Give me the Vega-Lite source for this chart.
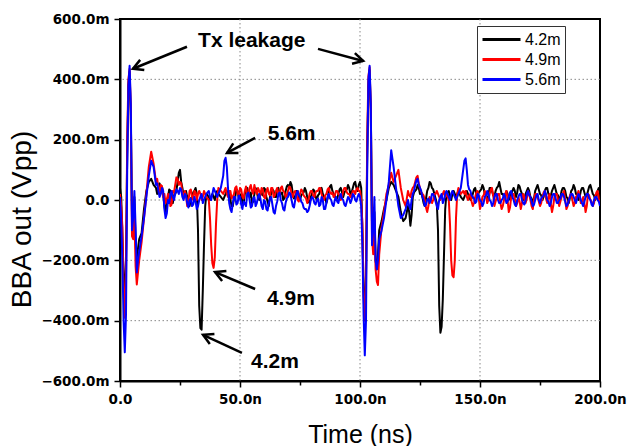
{
  "$schema": "https://vega.github.io/schema/vega-lite/v6.json",
  "width": 480,
  "height": 362,
  "autosize": {"type": "none"},
  "padding": {"left": 120, "top": 19, "right": 29, "bottom": 65},
  "background": "white",
  "config": {
    "view": {"stroke": "black", "strokeWidth": 2},
    "axis": {
      "domainColor": "black", "domainWidth": 2,
      "tickColor": "black", "tickWidth": 1.5,
      "labelFont": "DejaVu Sans", "labelFontWeight": "bold", "labelFontSize": 13.5, "labelColor": "black",
      "labelPadding": 5, "grid": false,
      "titleFont": "Liberation Sans", "titleFontWeight": "normal", "titleColor": "black"
    }
  },
  "datasets": {
    "wave": [
      {"t":0,"a":40,"b":20,"c":10},{"t":0.5,"a":10,"b":-20,"c":-60},{"t":1,"a":-120,"b":-90,"c":-200},{"t":1.5,"a":-250,"b":-300,"c":-400},{"t":2,"a":-330,"b":-390,"c":-505},{"t":2.5,"a":-200,"b":-250,"c":-380},{"t":3,"a":150,"b":200,"c":100},{"t":3.5,"a":380,"b":400,"c":380},{"t":4,"a":425,"b":435,"c":445},{"t":4.5,"a":280,"b":300,"c":320},{"t":5,"a":-60,"b":-120,"c":-100},{"t":5.5,"a":-100,"b":-130,"c":-60},{"t":6,"a":10,"b":-40,"c":30},{"t":6.5,"a":-150,"b":-220,"c":-90},{"t":7,"a":-200,"b":-280,"c":-240},{"t":7.5,"a":-160,"b":-240,"c":-200},{"t":8,"a":-130,"b":-200,"c":-170},{"t":9,"a":-110,"b":-140,"c":-120},{"t":10,"a":-30,"b":-60,"c":-60},{"t":11,"a":30,"b":20,"c":10},{"t":12,"a":60,"b":110,"c":80},{"t":13,"a":70,"b":160,"c":130},{"t":14,"a":50,"b":120,"c":110},{"t":15,"a":40,"b":60,"c":50},
      {"t":16,"a":50,"b":40,"c":30},{"t":17,"a":30,"b":50,"c":20},{"t":18,"a":20,"b":10,"c":30},{"t":19,"a":-40,"b":-10,"c":-60},{"t":20,"a":10,"b":20,"c":0},{"t":21,"a":30,"b":-20,"c":20},{"t":22,"a":-10,"b":30,"c":10},{"t":23,"a":20,"b":50,"c":20},{"t":24,"a":60,"b":70,"c":30},{"t":25,"a":100,"b":60,"c":40},{"t":26,"a":40,"b":20,"c":10},{"t":27,"a":20,"b":30,"c":20},{"t":28,"a":10,"b":-20,"c":-10},{"t":29,"a":-20,"b":30,"c":0},{"t":30,"a":10,"b":10,"c":-20},{"t":31,"a":30,"b":30,"c":10},{"t":32,"a":20,"b":0,"c":-30},{"t":32.5,"a":-100,"b":20,"c":-20},{"t":33,"a":-350,"b":30,"c":0},{"t":33.5,"a":-425,"b":20,"c":10},{"t":34,"a":-430,"b":0,"c":20},{"t":34.5,"a":-300,"b":10,"c":-10},{"t":35,"a":-150,"b":30,"c":0},{"t":35.5,"a":-20,"b":20,"c":10},{"t":36,"a":20,"b":10,"c":20},{"t":37,"a":10,"b":0,"c":30},{"t":37.5,"a":0,"b":-60,"c":10},{"t":38,"a":10,"b":-150,"c":0},{"t":38.5,"a":20,"b":-210,"c":20},{"t":39,"a":10,"b":-225,"c":40},{"t":39.5,"a":0,"b":-190,"c":30},{"t":40,"a":20,"b":-80,"c":20},{"t":40.5,"a":30,"b":0,"c":10},{"t":41,"a":20,"b":40,"c":20},{"t":42,"a":10,"b":30,"c":40},{"t":43,"a":0,"b":20,"c":80},{"t":43.5,"a":10,"b":30,"c":130},{"t":44,"a":20,"b":40,"c":140},{"t":44.5,"a":30,"b":20,"c":110},{"t":45,"a":20,"b":10,"c":40},{"t":46,"a":0,"b":30,"c":-30},{"t":47,"a":-20,"b":10,"c":-10},{"t":48,"a":10,"b":40,"c":10},
      {"t":49,"a":30,"b":20,"c":-10},{"t":50,"a":10,"b":40,"c":10},{"t":51,"a":-10,"b":10,"c":-30},{"t":52,"a":20,"b":30,"c":-10},{"t":53,"a":40,"b":20,"c":20},{"t":54,"a":10,"b":40,"c":0},{"t":55,"a":-10,"b":30,"c":-20},{"t":56,"a":20,"b":50,"c":10},{"t":57,"a":30,"b":20,"c":-10},{"t":58,"a":0,"b":30,"c":20},{"t":59,"a":20,"b":40,"c":-20},{"t":60,"a":40,"b":10,"c":0},{"t":61,"a":10,"b":30,"c":-30},{"t":62,"a":-20,"b":20,"c":-10},{"t":63,"a":20,"b":40,"c":10},{"t":64,"a":30,"b":10,"c":-40},{"t":65,"a":10,"b":30,"c":-20},{"t":66,"a":40,"b":20,"c":20},{"t":67,"a":20,"b":40,"c":0},{"t":68,"a":0,"b":30,"c":-30},{"t":69,"a":30,"b":10,"c":-10},{"t":70,"a":50,"b":30,"c":10},{"t":71,"a":60,"b":40,"c":20},{"t":72,"a":20,"b":10,"c":-20},{"t":73,"a":10,"b":30,"c":0},{"t":74,"a":30,"b":0,"c":30},{"t":75,"a":0,"b":20,"c":10},{"t":76,"a":20,"b":30,"c":-10},{"t":77,"a":40,"b":10,"c":-30},{"t":78,"a":10,"b":-10,"c":-40},{"t":79,"a":-10,"b":20,"c":-20},{"t":80,"a":20,"b":30,"c":10},{"t":81,"a":30,"b":10,"c":-10},{"t":82,"a":0,"b":30,"c":0},{"t":83,"a":20,"b":40,"c":-20},{"t":84,"a":40,"b":20,"c":10},{"t":85,"a":10,"b":0,"c":-30},{"t":86,"a":-10,"b":20,"c":-10},{"t":87,"a":30,"b":40,"c":20},{"t":88,"a":50,"b":20,"c":0},{"t":89,"a":20,"b":10,"c":-20},{"t":90,"a":0,"b":30,"c":10},{"t":91,"a":20,"b":20,"c":-10},{"t":92,"a":40,"b":0,"c":20},{"t":93,"a":10,"b":30,"c":0},{"t":94,"a":30,"b":40,"c":-20},{"t":95,"a":50,"b":20,"c":10},{"t":96,"a":20,"b":10,"c":-10},{"t":97,"a":40,"b":30,"c":20},{"t":98,"a":60,"b":20,"c":0},{"t":99,"a":30,"b":40,"c":10},
      {"t":100,"a":60,"b":30,"c":10},{"t":100.5,"a":40,"b":0,"c":-20},{"t":101,"a":-100,"b":-80,"c":-150},{"t":101.5,"a":-300,"b":-320,"c":-380},{"t":102,"a":-380,"b":-400,"c":-515},{"t":102.5,"a":-250,"b":-280,"c":-400},{"t":103,"a":150,"b":200,"c":100},{"t":103.5,"a":380,"b":410,"c":400},{"t":104,"a":430,"b":440,"c":445},{"t":104.5,"a":300,"b":300,"c":320},{"t":105,"a":-80,"b":-120,"c":-150},{"t":105.5,"a":-150,"b":-180,"c":-100},{"t":106,"a":-40,"b":-60,"c":10},{"t":106.5,"a":-200,"b":-230,"c":-200},{"t":107,"a":-230,"b":-270,"c":-230},{"t":107.5,"a":-180,"b":-282,"c":-200},{"t":108,"a":-100,"b":-180,"c":-130},{"t":109,"a":-70,"b":-90,"c":-100},{"t":110,"a":-30,"b":-40,"c":-60},{"t":111,"a":0,"b":20,"c":0},{"t":112,"a":40,"b":50,"c":60},{"t":113,"a":60,"b":90,"c":165},{"t":114,"a":50,"b":60,"c":110},{"t":115,"a":30,"b":80,"c":40},{"t":116,"a":10,"b":100,"c":-20},{"t":117,"a":-40,"b":40,"c":-60},{"t":118,"a":-70,"b":0,"c":-50},{"t":119,"a":-60,"b":-20,"c":-30},{"t":120,"a":-20,"b":30,"c":0},{"t":121,"a":-85,"b":10,"c":-30},{"t":122,"a":10,"b":40,"c":20},{"t":123,"a":30,"b":60,"c":50},{"t":124,"a":50,"b":80,"c":70},{"t":125,"a":20,"b":40,"c":40},{"t":126,"a":10,"b":20,"c":10},{"t":127,"a":-20,"b":0,"c":-20},{"t":128,"a":30,"b":-40,"c":0},{"t":129,"a":60,"b":10,"c":-10},{"t":130,"a":40,"b":-10,"c":20},{"t":131,"a":20,"b":20,"c":10},{"t":132,"a":-10,"b":30,"c":-20},{"t":132.5,"a":-100,"b":20,"c":-30},{"t":133,"a":-350,"b":10,"c":0},{"t":133.5,"a":-440,"b":0,"c":10},{"t":134,"a":-420,"b":10,"c":20},{"t":134.5,"a":-330,"b":20,"c":-10},{"t":135,"a":-180,"b":30,"c":0},{"t":135.5,"a":-30,"b":10,"c":20},{"t":136,"a":20,"b":20,"c":30},{"t":137,"a":30,"b":0,"c":10},{"t":137.5,"a":10,"b":-80,"c":0},{"t":138,"a":0,"b":-200,"c":20},{"t":138.5,"a":20,"b":-250,"c":30},{"t":139,"a":30,"b":-256,"c":20},{"t":139.5,"a":20,"b":-200,"c":10},{"t":140,"a":10,"b":-60,"c":0},{"t":140.5,"a":20,"b":20,"c":10},{"t":141,"a":30,"b":40,"c":20},{"t":142,"a":10,"b":20,"c":40},{"t":143,"a":0,"b":30,"c":100},{"t":143.5,"a":10,"b":20,"c":130},{"t":144,"a":20,"b":30,"c":138},{"t":144.5,"a":30,"b":10,"c":100},{"t":145,"a":20,"b":0,"c":50},
      {"t":146,"a":0,"b":20,"c":30},{"t":147,"a":20,"b":-20,"c":10},{"t":148,"a":40,"b":10,"c":-10},{"t":149,"a":10,"b":30,"c":20},{"t":150,"a":30,"b":-30,"c":0},{"t":151,"a":50,"b":10,"c":-20},{"t":152,"a":20,"b":30,"c":10},{"t":153,"a":0,"b":-10,"c":30},{"t":154,"a":40,"b":20,"c":0},{"t":155,"a":30,"b":40,"c":-20},{"t":156,"a":10,"b":-20,"c":10},{"t":157,"a":40,"b":10,"c":20},{"t":158,"a":60,"b":20,"c":-10},{"t":159,"a":20,"b":-30,"c":0},{"t":160,"a":10,"b":0,"c":20},{"t":161,"a":30,"b":30,"c":-10},{"t":162,"a":0,"b":-40,"c":10},{"t":163,"a":20,"b":10,"c":30},{"t":164,"a":40,"b":20,"c":0},{"t":165,"a":10,"b":-20,"c":-20},{"t":166,"a":50,"b":10,"c":10},{"t":167,"a":30,"b":-30,"c":20},{"t":168,"a":0,"b":20,"c":-10},{"t":169,"a":20,"b":-10,"c":0},{"t":170,"a":40,"b":30,"c":30},{"t":171,"a":10,"b":0,"c":10},{"t":172,"a":-10,"b":-30,"c":-20},{"t":173,"a":30,"b":20,"c":0},{"t":174,"a":50,"b":10,"c":20},{"t":175,"a":20,"b":-20,"c":-10},{"t":176,"a":0,"b":10,"c":10},{"t":177,"a":30,"b":30,"c":30},{"t":178,"a":40,"b":-10,"c":0},{"t":179,"a":10,"b":20,"c":-20},{"t":180,"a":30,"b":-40,"c":10},{"t":181,"a":50,"b":10,"c":20},{"t":182,"a":20,"b":20,"c":-10},{"t":183,"a":0,"b":-20,"c":0},{"t":184,"a":30,"b":10,"c":20},{"t":185,"a":40,"b":30,"c":10},{"t":186,"a":10,"b":-30,"c":-20},{"t":187,"a":-10,"b":0,"c":0},{"t":188,"a":30,"b":20,"c":20},{"t":189,"a":50,"b":-20,"c":10},{"t":190,"a":20,"b":10,"c":-10},{"t":191,"a":0,"b":30,"c":20},{"t":192,"a":30,"b":-10,"c":0},{"t":193,"a":40,"b":10,"c":-20},{"t":194,"a":10,"b":-40,"c":10},{"t":195,"a":30,"b":20,"c":20},{"t":196,"a":50,"b":0,"c":0},{"t":197,"a":20,"b":-20,"c":-20},{"t":198,"a":0,"b":10,"c":10},{"t":199,"a":30,"b":30,"c":0},{"t":200,"a":40,"b":-10,"c":-20},
      {"t":15.5,"a":20,"b":70,"c":55},{"t":16.5,"a":55,"b":25,"c":10},{"t":17.5,"a":45,"b":45,"c":40},{"t":18.5,"a":-20,"b":20,"c":-30},{"t":19.5,"a":-5,"b":0,"c":-45},{"t":20.5,"a":35,"b":15,"c":-10},{"t":21.5,"a":0,"b":-15,"c":30},{"t":22.5,"a":15,"b":25,"c":0},{"t":23.5,"a":30,"b":75,"c":35},{"t":24.5,"a":90,"b":50,"c":20},{"t":25.5,"a":60,"b":55,"c":35},{"t":26.5,"a":15,"b":10,"c":0},{"t":27.5,"a":30,"b":15,"c":15},{"t":28.5,"a":-15,"b":-5,"c":-25},{"t":29.5,"a":5,"b":35,"c":5},{"t":30.5,"a":25,"b":0,"c":-15},{"t":31.5,"a":40,"b":25,"c":-5},
      {"t":45.5,"a":25,"b":30,"c":-10},{"t":46.5,"a":-20,"b":5,"c":-40},{"t":47.5,"a":5,"b":20,"c":10},{"t":48.5,"a":35,"b":45,"c":-15},{"t":49.5,"a":5,"b":15,"c":15},{"t":50.5,"a":20,"b":35,"c":-15},{"t":51.5,"a":-15,"b":5,"c":-5},{"t":52.5,"a":35,"b":45,"c":-20},{"t":53.5,"a":20,"b":15,"c":25},{"t":54.5,"a":25,"b":50,"c":-25},{"t":55.5,"a":-5,"b":20,"c":5},{"t":56.5,"a":40,"b":30,"c":-20},{"t":57.5,"a":5,"b":40,"c":10},{"t":58.5,"a":25,"b":15,"c":5},{"t":59.5,"a":15,"b":35,"c":-30},{"t":60.5,"a":35,"b":5,"c":-5},{"t":61.5,"a":-5,"b":40,"c":-35},{"t":62.5,"a":10,"b":15,"c":5},{"t":63.5,"a":35,"b":40,"c":-15},{"t":64.5,"a":10,"b":15,"c":-45},{"t":65.5,"a":35,"b":40,"c":-5},{"t":66.5,"a":20,"b":15,"c":25},{"t":67.5,"a":25,"b":45,"c":-10},{"t":68.5,"a":5,"b":25,"c":-35},{"t":69.5,"a":45,"b":15,"c":5},{"t":70.5,"a":40,"b":45,"c":25},{"t":71.5,"a":50,"b":20,"c":0},{"t":72.5,"a":5,"b":25,"c":-25},{"t":73.5,"a":30,"b":20,"c":20},{"t":74.5,"a":10,"b":-5,"c":15},{"t":75.5,"a":15,"b":35,"c":-5},{"t":76.5,"a":25,"b":15,"c":-25},{"t":77.5,"a":30,"b":5,"c":-30},{"t":78.5,"a":-5,"b":0,"c":-35},{"t":79.5,"a":10,"b":30,"c":0},{"t":80.5,"a":35,"b":15,"c":5},{"t":81.5,"a":10,"b":25,"c":-15},{"t":82.5,"a":15,"b":30,"c":5},{"t":83.5,"a":35,"b":40,"c":-15},{"t":84.5,"a":20,"b":5,"c":0},{"t":85.5,"a":5,"b":15,"c":-30},{"t":86.5,"a":5,"b":35,"c":10},{"t":87.5,"a":45,"b":25,"c":5},{"t":88.5,"a":30,"b":25,"c":-15},{"t":89.5,"a":15,"b":15,"c":0},{"t":90.5,"a":5,"b":30,"c":-5},{"t":91.5,"a":35,"b":15,"c":10},{"t":92.5,"a":25,"b":10,"c":5},{"t":93.5,"a":25,"b":40,"c":-15},{"t":94.5,"a":35,"b":25,"c":-5},{"t":95.5,"a":40,"b":20,"c":5},{"t":96.5,"a":25,"b":15,"c":0},{"t":97.5,"a":55,"b":30,"c":15},{"t":98.5,"a":40,"b":35,"c":-5},{"t":99.5,"a":50,"b":30,"c":20},
      {"t":120.5,"a":-40,"b":15,"c":-20},{"t":121.5,"a":-50,"b":30,"c":0},{"t":122.5,"a":25,"b":45,"c":30},{"t":123.5,"a":35,"b":75,"c":65},{"t":124.5,"a":40,"b":55,"c":50},{"t":125.5,"a":25,"b":25,"c":30},{"t":126.5,"a":-10,"b":15,"c":0},{"t":127.5,"a":5,"b":-25,"c":-15},{"t":128.5,"a":40,"b":-20,"c":5},{"t":129.5,"a":55,"b":5,"c":0},{"t":130.5,"a":35,"b":0,"c":20},{"t":131.5,"a":5,"b":20,"c":-5},
      {"t":145.5,"a":10,"b":15,"c":35},{"t":146.5,"a":5,"b":-5,"c":15},{"t":147.5,"a":35,"b":-10,"c":5},{"t":148.5,"a":20,"b":25,"c":-5},{"t":149.5,"a":25,"b":5,"c":15},{"t":150.5,"a":35,"b":-15,"c":-5},{"t":151.5,"a":40,"b":15,"c":-10},{"t":152.5,"a":15,"b":15,"c":15},{"t":153.5,"a":15,"b":0,"c":20},{"t":154.5,"a":40,"b":35,"c":-5},{"t":155.5,"a":15,"b":15,"c":-10},{"t":156.5,"a":30,"b":-5,"c":20},{"t":157.5,"a":45,"b":20,"c":0},{"t":158.5,"a":40,"b":-10,"c":-10},{"t":159.5,"a":20,"b":-20,"c":5},{"t":160.5,"a":15,"b":20,"c":10},{"t":161.5,"a":20,"b":0,"c":-5},{"t":162.5,"a":5,"b":-25,"c":25},{"t":163.5,"a":30,"b":20,"c":10},{"t":164.5,"a":30,"b":5,"c":-15},{"t":165.5,"a":25,"b":-10,"c":0},{"t":166.5,"a":45,"b":-5,"c":20},{"t":167.5,"a":20,"b":-10,"c":0},{"t":168.5,"a":5,"b":10,"c":-15},{"t":169.5,"a":30,"b":5,"c":20},{"t":170.5,"a":30,"b":20,"c":15},{"t":171.5,"a":5,"b":-20,"c":-5},{"t":172.5,"a":5,"b":0,"c":-15},{"t":173.5,"a":40,"b":20,"c":15},{"t":174.5,"a":35,"b":-5,"c":0},{"t":175.5,"a":15,"b":-10,"c":5},{"t":176.5,"a":10,"b":25,"c":15},{"t":177.5,"a":40,"b":5,"c":20},{"t":178.5,"a":20,"b":10,"c":-5},{"t":179.5,"a":15,"b":-15,"c":-10},{"t":180.5,"a":40,"b":-20,"c":20},{"t":181.5,"a":35,"b":20,"c":5},{"t":182.5,"a":15,"b":0,"c":-10},{"t":183.5,"a":10,"b":-5,"c":5},{"t":184.5,"a":40,"b":20,"c":20},{"t":185.5,"a":30,"b":0,"c":-5},{"t":186.5,"a":5,"b":-20,"c":-15},{"t":187.5,"a":10,"b":15,"c":10},{"t":188.5,"a":35,"b":0,"c":20},{"t":189.5,"a":40,"b":-10,"c":0},{"t":190.5,"a":15,"b":15,"c":5},{"t":191.5,"a":10,"b":15,"c":15},{"t":192.5,"a":40,"b":-5,"c":-10},{"t":193.5,"a":25,"b":-10,"c":-5},{"t":194.5,"a":15,"b":-20,"c":20},{"t":195.5,"a":45,"b":15,"c":5},{"t":196.5,"a":35,"b":-5,"c":-15},{"t":197.5,"a":15,"b":-10,"c":0},{"t":198.5,"a":10,"b":25,"c":10},{"t":199.5,"a":40,"b":5,"c":-5}
    ],
    "gridY": [{"v": -400}, {"v": -200}, {"v": 0}, {"v": 200}, {"v": 400}],
    "gridX": [{"t": 50}, {"t": 100}, {"t": 150}],
    "arrows": [
      {"id":1,"t0":27.9,"v0":508,"t":5.4,"v":435},
      {"id":2,"t0":82.5,"v0":501,"t":101.3,"v":461},
      {"id":3,"t0":56.3,"v0":206,"t":44.6,"v":156},
      {"id":4,"t0":56.3,"v0":-295,"t":39.6,"v":-239},
      {"id":5,"t0":50.8,"v0":-507,"t":34.6,"v":-447}
    ],
    "notes": [
      {"t":54.9,"v":508,"label":"Tx leakage"},
      {"t":71.5,"v":199,"label":"5.6m"},
      {"t":71.2,"v":-348,"label":"4.9m"},
      {"t":64.6,"v":-557,"label":"4.2m"}
    ]
  },
  "layer": [
    {
      "data": {"name": "gridY"},
      "mark": {"type": "rule", "color": "#888888", "strokeWidth": 1, "strokeDash": [1.5, 2.5]},
      "encoding": {
        "y": {"field": "v", "type": "quantitative", "title": "BBA out (Vpp)"}
      }
    },
    {
      "data": {"name": "gridX"},
      "mark": {"type": "rule", "color": "#888888", "strokeWidth": 1, "strokeDash": [1.5, 2.5]},
      "encoding": {
        "x": {"field": "t", "type": "quantitative", "title": "Time (ns)"}
      }
    },
    {
      "data": {"name": "wave"},
      "transform": [{"fold": ["a", "b", "c"], "as": ["s", "v"]}],
      "mark": {"type": "line", "strokeWidth": 2, "strokeJoin": "round", "clip": true},
      "encoding": {
        "x": {
          "field": "t", "type": "quantitative", "title": "Time (ns)",
          "scale": {"domain": [0, 200], "nice": false, "zero": false},
          "axis": {
            "values": [0, 25, 50, 75, 100, 125, 150, 175, 200],
            "labelExpr": "datum.value % 50 != 0 ? '' : (datum.value == 0 ? '0.0' : format(datum.value, '.1f') + 'n')",
            "tickSize": {"condition": {"test": "datum.value % 50 != 0", "value": 4}, "value": 6},
            "titleFontSize": 25, "titleX": 240, "titleY": 61, "titleBaseline": "alphabetic", "titleAlign": "center",
            "labelFlush": false
          }
        },
        "y": {
          "field": "v", "type": "quantitative", "title": "BBA out (Vpp)",
          "scale": {"domain": [-600, 600], "nice": false, "zero": false},
          "axis": {
            "values": [-600, -500, -400, -300, -200, -100, 0, 100, 200, 300, 400, 500, 600],
            "labelExpr": "datum.value % 200 != 0 ? '' : (datum.value == 0 ? '0.0' : format(datum.value, '.1f') + 'm')",
            "tickSize": {"condition": {"test": "datum.value % 200 != 0", "value": 4}, "value": 6},
            "titleFontSize": 28, "titleX": -89.5, "titleY": 200, "titleAngle": 270, "titleBaseline": "alphabetic", "titleAlign": "center",
            "labelFlush": false
          }
        },
        "color": {
          "field": "s", "type": "nominal",
          "scale": {"domain": ["a", "b", "c"], "range": ["#000000", "#ff0000", "#0000ff"]},
          "legend": {
            "title": null, "orient": "none", "legendX": 357, "legendY": 7,
            "symbolType": "stroke", "symbolSize": 1444, "symbolStrokeWidth": 3,
            "labelExpr": "datum.label == 'a' ? '4.2m' : datum.label == 'b' ? '4.9m' : '5.6m'",
            "labelFont": "Liberation Sans", "labelFontSize": 16, "labelColor": "black", "labelOffset": 3,
            "clipHeight": 19, "rowPadding": 1, "padding": 4,
            "strokeColor": "#333333", "fillColor": "white"
          }
        }
      }
    },
    {
      "data": {"name": "arrows"},
      "mark": {"type": "rule", "color": "black", "strokeWidth": 2.5},
      "encoding": {
        "x": {"field": "t0", "type": "quantitative", "title": "Time (ns)"},
        "y": {"field": "v0", "type": "quantitative", "title": "BBA out (Vpp)"},
        "x2": {"field": "t"},
        "y2": {"field": "v"}
      }
    },
    {
      "data": {"name": "arrows"},
      "mark": {"type": "point", "shape": "M-1,-0.55L0,0L-1,0.55", "filled": false, "color": "black", "strokeWidth": 2.5, "opacity": 1, "size": 400},
      "encoding": {
        "x": {"field": "t", "type": "quantitative", "title": "Time (ns)"},
        "y": {"field": "v", "type": "quantitative", "title": "BBA out (Vpp)"},
        "angle": {"field": "id", "type": "ordinal", "scale": {"type": "ordinal", "domain": [1, 2, 3, 4, 5], "range": [157.8, 14.9, 151.8, 203, 204.8]}, "legend": null}
      }
    },
    {
      "data": {"name": "notes"},
      "mark": {"type": "text", "font": "Liberation Sans", "fontWeight": "bold", "fontSize": 21, "color": "black", "align": "center", "baseline": "alphabetic"},
      "encoding": {
        "x": {"field": "t", "type": "quantitative", "title": "Time (ns)"},
        "y": {"field": "v", "type": "quantitative", "title": "BBA out (Vpp)"},
        "text": {"field": "label"}
      }
    }
  ]
}
